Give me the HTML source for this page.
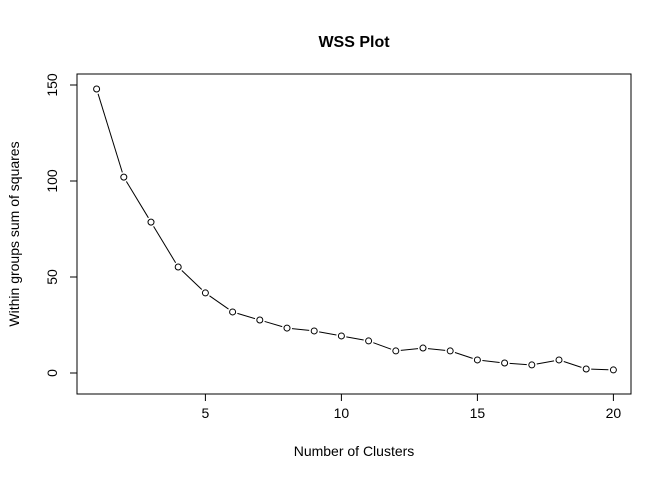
<!DOCTYPE html>
<html><head><meta charset="utf-8"><style>
body{margin:0;background:#fff}
svg{display:block;font-family:"Liberation Sans",Arial,sans-serif}
</style></head><body>
<svg id="chart" width="672" height="480" viewBox="0 0 672 480">
<rect width="672" height="480" fill="#fff"/>
<text x="354" y="47" text-anchor="middle" font-size="16" font-weight="bold">WSS Plot</text>
<rect x="77" y="74" width="554" height="320" fill="none" stroke="#000" stroke-width="1"/>
<text x="354" y="456" text-anchor="middle" font-size="14">Number of Clusters</text>
<text transform="translate(19,234) rotate(-90)" text-anchor="middle" font-size="14">Within groups sum of squares</text>
<g id="axes"></g>
<g id="marks"></g>
</svg>
<script>
const clusters=[1,2,3,4,5,6,7,8,9,10,11,12,13,14,15,16,17,18,19,20];
const wss=[147.9,102,78.6,55.2,41.7,31.8,27.6,23.4,21.9,19.3,16.7,11.5,13,11.5,6.8,5.2,4.2,6.8,2.1,1.6];
const xTicks=[5,10,15,20];
const yTicks=[0,50,100,150];
const NS="http://www.w3.org/2000/svg";
function X(v){return 96.6+(v-1)*27.2;}
function Y(v){return 373-v*1.92;}
function mk(t,a,p){const e=document.createElementNS(NS,t);for(const k in a)e.setAttribute(k,a[k]);p.appendChild(e);return e;}
const ax=document.getElementById('axes');
let l=mk('line',{x1:X(xTicks[0]),x2:X(xTicks[xTicks.length-1]),y1:394,y2:394,stroke:'#000'},ax);


xTicks.forEach(t=>{
 const tk=mk('line',{x1:X(t),x2:X(t),y1:394,y2:401,stroke:'#000'},ax);
 
 
 const tx=mk('text',{x:X(t),y:418,'text-anchor':'middle','font-size':14},ax);tx.textContent=t;
 
 
});
l=mk('line',{x1:77,x2:77,y1:Y(yTicks[0]),y2:Y(yTicks[yTicks.length-1]),stroke:'#000'},ax);


yTicks.forEach(t=>{
 const tk=mk('line',{x1:70,x2:77,y1:Y(t),y2:Y(t),stroke:'#000'},ax);
 
 
 const tx=mk('text',{transform:`translate(57,${Y(t)}) rotate(-90)`,'text-anchor':'middle','font-size':14},ax);tx.textContent=t;
 
 
});
const mg=document.getElementById('marks');
const r=3,gap=5;
for(let i=0;i<clusters.length-1;i++){
 const x1=X(clusters[i]),y1=Y(wss[i]),x2=X(clusters[i+1]),y2=Y(wss[i+1]);
 const d=Math.hypot(x2-x1,y2-y1);if(d<=2*gap)continue;
 const ux=(x2-x1)/d,uy=(y2-y1)/d;
 const s=mk('line',{x1:x1+ux*gap,y1:y1+uy*gap,x2:x2-ux*gap,y2:y2-uy*gap,stroke:'#000'},mg);
 
 
}
clusters.forEach((c,i)=>{
 const p=mk('circle',{cx:X(c),cy:Y(wss[i]),r:r,fill:'none',stroke:'#000'},mg);
 
 
});
</script>
</body></html>
